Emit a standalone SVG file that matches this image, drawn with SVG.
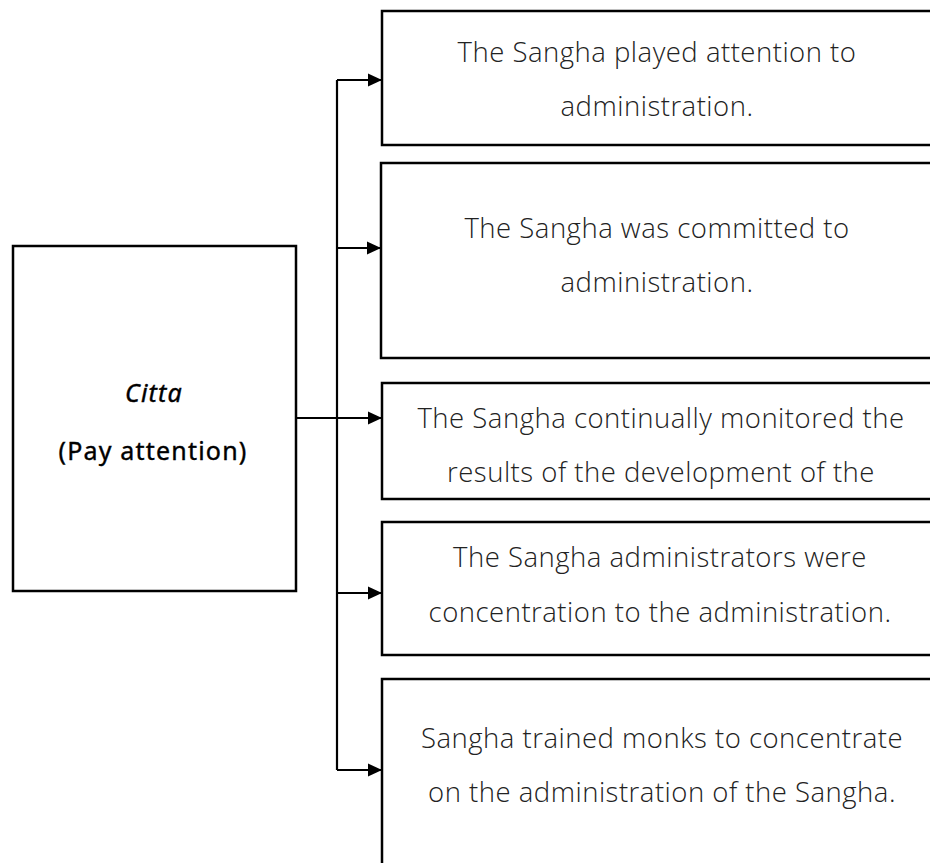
<svg xmlns="http://www.w3.org/2000/svg" width="930" height="863" viewBox="0 0 930 863">
<style>
.box{fill:#fff;stroke:#000;stroke-width:2.5}
.t{font-family:"Open Sans","Noto Sans",sans-serif;font-size:27.5px;font-weight:300;letter-spacing:0.5px;fill:#222;text-anchor:middle}
.c{font-family:"Noto Sans","Open Sans",sans-serif;font-size:25px;font-weight:400;letter-spacing:1.2px;fill:#000;stroke:#000;stroke-width:0.4;text-anchor:middle}
.ln{fill:none;stroke:#000;stroke-width:2.2}
</style>
<defs>
<marker id="ah" markerWidth="14" markerHeight="14" refX="13" refY="7" orient="auto" markerUnits="userSpaceOnUse" viewBox="0 0 14 14">
<path d="M0,0.5 L14,7 L0,13.5 z" fill="#000"/>
</marker>
</defs>
<g id="source">
<rect class="box" x="13" y="246" width="283" height="345"/>
<text class="c" x="154" y="402" font-style="italic">Citta</text>
<text class="c" x="153" y="460">(Pay attention)</text>
</g>
<g id="n1">
<rect class="box" x="382" y="11" width="560" height="134"/>
<text class="t" x="657" y="62">The Sangha played attention to</text>
<text class="t" x="657" y="116">administration.</text>
</g>
<g id="n2">
<rect class="box" x="381" y="163" width="560" height="195"/>
<text class="t" x="657" y="238">The Sangha was committed to</text>
<text class="t" x="657" y="292">administration.</text>
</g>
<g id="n3">
<rect class="box" x="382" y="383" width="560" height="116"/>
<text class="t" x="661" y="428">The Sangha continually monitored the</text>
<text class="t" x="661" y="482">results of the development of the</text>
</g>
<g id="n4">
<rect class="box" x="382" y="522" width="560" height="133"/>
<text class="t" x="660" y="567">The Sangha administrators were</text>
<text class="t" x="660" y="622">concentration to the administration.</text>
</g>
<g id="n5">
<rect class="box" x="382" y="679" width="560" height="200"/>
<text class="t" x="662" y="748">Sangha trained monks to concentrate</text>
<text class="t" x="662" y="802">on the administration of the Sangha.</text>
</g>
<g id="connectors">
<path class="ln" d="M337,80 V770"/>
<path class="ln" d="M337,80 H381" marker-end="url(#ah)"/>
<path class="ln" d="M337,248 H380" marker-end="url(#ah)"/>
<path class="ln" d="M296,418 H381" marker-end="url(#ah)"/>
<path class="ln" d="M337,593 H381" marker-end="url(#ah)"/>
<path class="ln" d="M337,770 H381" marker-end="url(#ah)"/>
</g>
</svg>
